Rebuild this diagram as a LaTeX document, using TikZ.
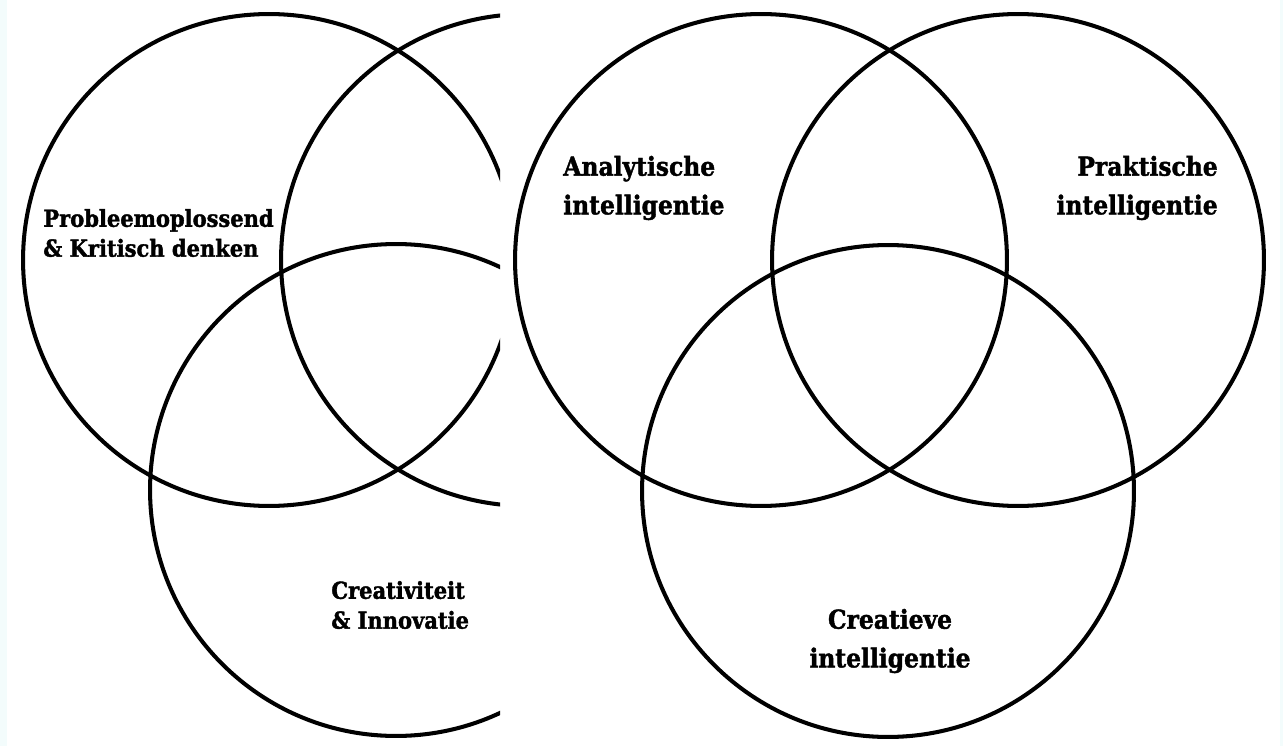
\documentclass[tikz,border=0pt]{standalone}
\usepackage{fontspec}
\newfontfamily\vennfont{DejaVu Serif Condensed}[BoldFeatures={FakeBold=1.6}]
\definecolor{edgetint}{RGB}{243,252,252}
\tikzset{
  ring/.style={line width=2.3pt},
  smalllabel/.style={inner sep=0pt, align=left, font=\vennfont\bfseries\fontsize{13.3}{17}\selectfont},
  biglabel/.style={inner sep=0pt, font=\vennfont\bfseries\fontsize{14.8}{22}\selectfont}
}
\begin{document}
\begin{tikzpicture}[x=0.02cm, y=-0.02cm]
  \useasboundingbox (0, 0) rectangle (1283, 746);
  \fill[edgetint] (0, 0) rectangle (7, 746);
  \fill[edgetint] (1280, 0) rectangle (1283, 746);

  \begin{scope}
    \clip (0, 0) rectangle (500, 746);
    \draw[ring] (269, 260) circle (4.92cm);
    \draw[ring] (527, 260) circle (4.92cm);
    \draw[ring] (396, 490) circle (4.92cm);
  \end{scope}

  \draw[ring] (761, 260) circle (4.92cm);
  \draw[ring] (1018, 260) circle (4.92cm);
  \draw[ring] (888, 491) circle (4.92cm);

  \node[smalllabel, anchor=west] (problem) at (43, 233) {Probleemoplossend\\\& Kritisch denken};
  \node[smalllabel, anchor=west] (creativity) at (331, 605) {Creativiteit\\\& Innovatie};

  \node[biglabel, anchor=west, align=left] (analytic) at (563, 188) {Analytische\\intelligentie};
  \node[biglabel, anchor=east, align=right] (practical) at (1218, 188) {Praktische\\intelligentie};
  \node[biglabel, align=center] (creative) at (890, 641) {Creatieve\\intelligentie};
\end{tikzpicture}
\end{document}
